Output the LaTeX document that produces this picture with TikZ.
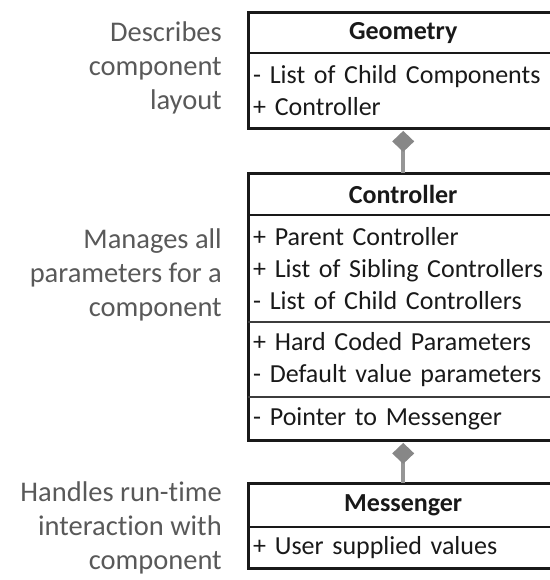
\documentclass[tikz,border=0pt]{standalone}
\usepackage{fontspec}
\setmainfont{Carlito}[Ligatures={NoCommon}]
\usetikzlibrary{arrows.meta}
\definecolor{notegray}{RGB}{89,89,89}
\definecolor{stemgray}{RGB}{150,150,150}
\definecolor{tipgray}{RGB}{135,135,135}
\definecolor{sepgray}{RGB}{60,60,60}
\newcommand{\compfont}{\fontsize{26}{32}\selectfont\hyphenpenalty=10000\relax}
\tikzset{
  comp/.style={anchor=north west, minimum width=310pt, text width=300pt, inner xsep=5pt, inner ysep=0pt, align=left, font=\compfont, text=black!90},
  headbox/.style={anchor=north west, minimum width=310pt, text width=300pt, inner xsep=5pt, inner ysep=0pt, align=center, font=\fontsize{26}{30}\selectfont\bfseries, text=black!90},
  frame/.style={line width=3pt, black!90},
  headsep/.style={line width=2.5pt, black!90},
  compsep/.style={line width=1.6pt, sepgray},
  note/.style={anchor=east, align=right, text=notegray, font=\fontsize{28.5}{34}\selectfont, inner sep=0pt},
  assoc/.style={line width=4pt, stemgray, -{Diamond[length=21pt, width=22pt, fill=tipgray, color=tipgray]}, shorten >=2.5pt}
}
\begin{document}
\begin{tikzpicture}[x=1pt, y=-1pt]
\useasboundingbox (0,0) rectangle (549,580);
% Geometry
\node[headbox, minimum height=40pt] (geoH) at (248,13) {Geometry};
\node[comp, minimum height=75pt] (geoB) at (248,53) {- List of Child Components\\+ Controller};
% Controller
\node[headbox, minimum height=42pt] (ctlH) at (248,173) {Controller};
\node[comp, minimum height=107pt] (ctlA) at (248,215) {+ Parent Controller\\+ List of Sibling Controllers\\- List of Child Controllers};
\node[comp, minimum height=75pt] (ctlB) at (248,322) {+ Hard Coded Parameters\\- Default value parameters};
\node[comp, minimum height=43pt] (ctlC) at (248,397) {- Pointer to Messenger};
% Messenger
\node[headbox, minimum height=44pt] (msgH) at (248,483) {Messenger};
\node[comp, minimum height=41pt] (msgB) at (248,527) {+ User supplied values};
% frames and separators
\draw[frame] (geoH.north west) rectangle (geoB.south east);
\draw[headsep] (geoB.north west) -- (geoB.north east);
\draw[frame] (ctlH.north west) rectangle (ctlC.south east);
\draw[headsep] (ctlA.north west) -- (ctlA.north east);
\draw[compsep] (ctlB.north west) -- (ctlB.north east);
\draw[compsep] (ctlC.north west) -- (ctlC.north east);
\draw[frame] (msgH.north west) rectangle (msgB.south east);
\draw[headsep] (msgB.north west) -- (msgB.north east);
% connectors
\draw[assoc] (ctlH.north) -- (geoB.south);
\draw[assoc] (msgH.north) -- (ctlC.south);
% notes
\node[note] (n1) at (222,68) {Describes\\component\\layout};
\node[note] (n2) at (222,275) {Manages all\\parameters for a\\component};
\node[note] (n3) at (222,528) {Handles run-time\\interaction with\\component};
\end{tikzpicture}
\end{document}
